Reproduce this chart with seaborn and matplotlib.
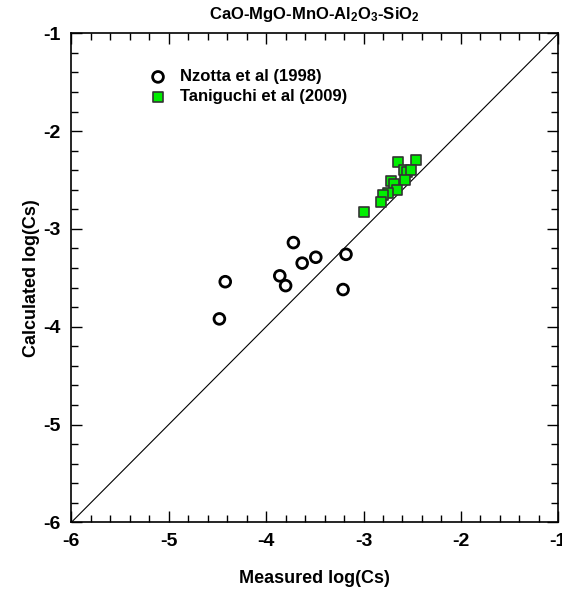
import matplotlib
matplotlib.use("Agg")
import matplotlib.pyplot as plt
import matplotlib.ticker as mticker
import seaborn as sns
import pandas as pd

# Nzotta et al (1998) — open circles
nzotta_measured = [-4.48, -4.42, -3.86, -3.80, -3.72, -3.63, -3.49, -3.21, -3.18]
nzotta_calc = [-3.92, -3.54, -3.48, -3.58, -3.14, -3.35, -3.29, -3.62, -3.26]

# Taniguchi et al (2009) — green squares
tani_measured = [-2.65, -2.46, -2.58, -2.55, -2.51, -2.57, -2.72, -2.69,
                 -2.66, -2.75, -2.80, -2.82, -3.00]
tani_calc = [-2.32, -2.30, -2.40, -2.42, -2.40, -2.50, -2.51, -2.54,
             -2.60, -2.63, -2.65, -2.72, -2.83]

sns.set_style("ticks")
plt.rcParams["font.family"] = ["Liberation Sans", "DejaVu Sans"]
plt.rcParams["font.weight"] = "bold"
plt.rcParams["mathtext.fontset"] = "custom"
plt.rcParams["mathtext.rm"] = "Liberation Sans:bold"
plt.rcParams["mathtext.bf"] = "Liberation Sans:bold"
plt.rcParams["mathtext.default"] = "bf"
plt.rcParams["axes.unicode_minus"] = False
for key in ["text.color", "axes.labelcolor", "xtick.color", "ytick.color", "axes.edgecolor"]:
    plt.rcParams[key] = "black"

df = pd.concat([
    pd.DataFrame({"measured": nzotta_measured, "calc": nzotta_calc,
                  "source": "Nzotta et al (1998)"}),
    pd.DataFrame({"measured": tani_measured, "calc": tani_calc,
                  "source": "Taniguchi et al (2009)"}),
])

fig = plt.figure(figsize=(5.62, 5.89), dpi=100)
ax = fig.add_axes([0.127, 0.1132, 0.8664, 0.8303])

ax.plot([-6, -1], [-6, -1], color="black", lw=0.8, zorder=1)

sns.scatterplot(data=df[df.source == "Nzotta et al (1998)"], x="measured", y="calc",
                marker="o", s=60, facecolor="none", edgecolor="black", linewidth=2,
                label="Nzotta et al (1998)", ax=ax, zorder=3)
sns.scatterplot(data=df[df.source == "Taniguchi et al (2009)"], x="measured", y="calc",
                marker="s", s=55, color="#00ee00", edgecolor="#333333", linewidth=1.2,
                label="Taniguchi et al (2009)", ax=ax, zorder=3)

ax.set_xlim(-6, -1)
ax.set_ylim(-6, -1)
ax.xaxis.set_major_locator(mticker.MultipleLocator(1))
ax.yaxis.set_major_locator(mticker.MultipleLocator(1))
ax.xaxis.set_minor_locator(mticker.MultipleLocator(0.2))
ax.yaxis.set_minor_locator(mticker.MultipleLocator(0.2))
ax.tick_params(which="both", direction="in", top=True, right=True, width=1,
               labelsize=14, pad=8)
ax.tick_params(which="major", length=8)
ax.tick_params(which="minor", length=5)
for lbl in ax.get_xticklabels() + ax.get_yticklabels():
    lbl.set_fontweight("bold")
for sp in ax.spines.values():
    sp.set_linewidth(1.2)

ax.set_xlabel("Measured log(Cs)", fontsize=13, fontweight="bold", labelpad=14)
ax.set_ylabel("Calculated log(Cs)", fontsize=13, fontweight="bold", labelpad=2)
ax.set_title("CaO-MgO-MnO-Al$_2$O$_3$-SiO$_2$", fontsize=12, fontweight="bold", pad=10)

ax.legend(loc="upper left", bbox_to_anchor=(0.13, 0.94), frameon=False,
          prop={"weight": "bold", "size": 12}, handletextpad=0.3,
          labelspacing=0.3, borderaxespad=0)

fig.savefig("out.png", dpi=100)
